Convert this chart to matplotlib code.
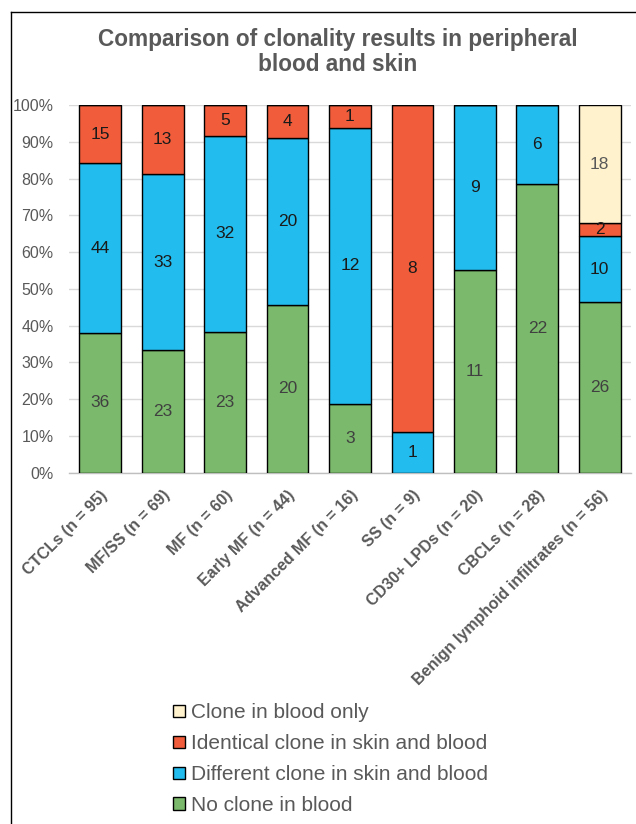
import matplotlib
matplotlib.use("Agg")
import matplotlib.pyplot as plt
import numpy as np
from matplotlib.patches import Patch
from matplotlib.lines import Line2D

plt.rcParams['font.family'] = ['Liberation Sans', 'DejaVu Sans']

categories = ["CTCLs (n = 95)", "MF/SS (n = 69)", "MF (n = 60)", "Early MF (n = 44)",
              "Advanced MF (n = 16)", "SS (n = 9)", "CD30+ LPDs (n = 20)",
              "CBCLs (n = 28)", "Benign lymphoid infiltrates (n = 56)"]
no_clone = [36, 23, 23, 20, 3, 0, 11, 22, 26]
different = [44, 33, 32, 20, 12, 1, 9, 6, 10]
identical = [15, 13, 5, 4, 1, 8, 0, 0, 2]
blood_only = [0, 0, 0, 0, 0, 0, 0, 0, 18]

series_names = ["No clone in blood", "Different clone in skin and blood",
                "Identical clone in skin and blood", "Clone in blood only"]
series_vals = [no_clone, different, identical, blood_only]
colors = ["#7BBA6C", "#22BDEE", "#F15D3B", "#FFF2CC"]
label_colors = ["#404040", "#1a1a1a", "#1a1a1a", "#595959"]

W, H = 636, 824
fig = plt.figure(figsize=(W / 100, H / 100), dpi=100)
ax = fig.add_axes([69 / W, 1 - 472.5 / H, 562 / W, 367.5 / H])

data = np.array(series_vals, dtype=float)
totals = data.sum(axis=0)
pct = data / totals * 100
x = np.arange(len(categories))
bottom = np.zeros(len(categories))
for i, name in enumerate(series_names):
    ax.bar(x, pct[i], bottom=bottom, width=0.67, color=colors[i],
           edgecolor="black", linewidth=1.0, zorder=3, label=name)
    for j in range(len(categories)):
        v = data[i][j]
        if v > 0:
            ax.text(x[j], bottom[j] + pct[i][j] / 2, f"{int(v)}", ha="center",
                    va="center", fontsize=12.5, color=label_colors[i], zorder=4)
    bottom += pct[i]

ax.set_xlim(-0.5, len(categories) - 0.5)
ax.set_ylim(0, 100)
ax.set_yticks(np.arange(0, 101, 10))
ax.set_yticklabels([f"{v}%" for v in range(0, 101, 10)], fontsize=11.5, color="#595959")
ax.yaxis.grid(True, color="#d9d9d9", linewidth=1, zorder=0)
ax.set_axisbelow(True)
for s in ["top", "right", "left"]:
    ax.spines[s].set_visible(False)
ax.spines["bottom"].set_color("#bfbfbf")
ax.spines["bottom"].set_linewidth(1)
ax.tick_params(axis="y", length=0, pad=11)
ax.set_xticks(x)
ax.set_xticklabels(categories, rotation=45, ha="right", rotation_mode="anchor",
                   fontsize=11.5, fontweight="bold", color="#595959")
ax.tick_params(axis="x", length=0, pad=11)

fig.text(338 / W, 1 - 52 / H, "Comparison of clonality results in peripheral\nblood and skin",
         ha="center", va="center", fontsize=16.3, fontweight="bold", color="#595959",
         linespacing=1.08)

handles = [Patch(facecolor=colors[i], edgecolor="black", linewidth=1.0) for i in range(4)][::-1]
labels = series_names[::-1]
fig.legend(handles, labels, loc="upper left", bbox_to_anchor=(163 / W, 1 - 693 / H),
           frameon=False, fontsize=15, handlelength=0.55, handleheight=0.55,
           handletextpad=0.3, labelspacing=0.57, borderpad=0, labelcolor="#595959")

fig.add_artist(Line2D([11 / W, 1], [1 - 12 / H, 1 - 12 / H], transform=fig.transFigure,
                      color="black", linewidth=1))
fig.add_artist(Line2D([11 / W, 11 / W], [0, 1 - 12 / H], transform=fig.transFigure,
                      color="black", linewidth=1))

fig.savefig("out.png", dpi=100)
